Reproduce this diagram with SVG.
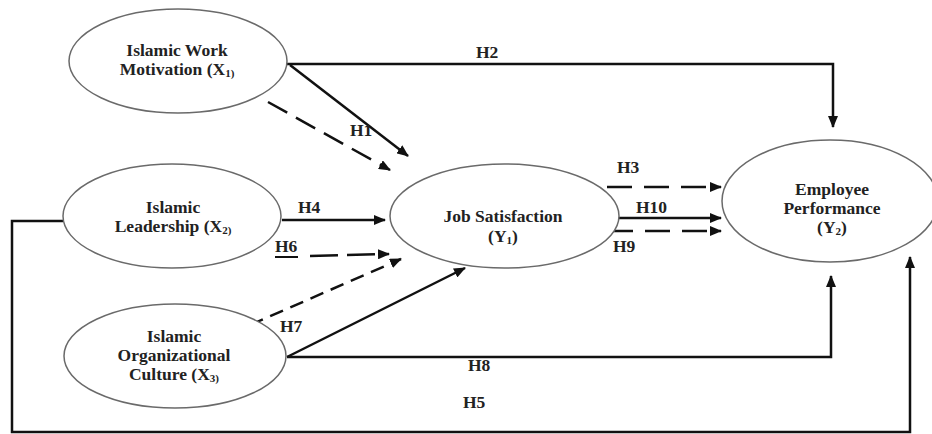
<svg xmlns="http://www.w3.org/2000/svg" width="932" height="434" viewBox="0 0 932 434">
<style>
.node ellipse{fill:#fff;stroke:#6a6a6a;stroke-width:1.5}
text{font-family:"Liberation Serif","Times New Roman",serif;font-weight:bold;font-size:17.5px;fill:#222}
.nt{text-anchor:middle}
.c{fill:none;stroke:#111;stroke-width:2.5}
.d1{stroke-dasharray:22 10}
.d2{stroke-dasharray:28 9}
.d3{stroke-dasharray:14 8}
.d4{stroke-dasharray:25 12}
</style>
<defs>
<marker id="ah" markerUnits="userSpaceOnUse" markerWidth="12" markerHeight="10" refX="11" refY="5" orient="auto">
<path d="M0,0 L12,5 L0,10 z" fill="#111"/>
</marker>
</defs>
<rect width="932" height="434" fill="#fff"/>
<g id="connectors">
<path class="c" d="M287,64 H833 V127" marker-end="url(#ah)"/>
<path class="c" d="M290,65 L408,156" marker-end="url(#ah)"/>
<path class="c d1" d="M268,102 L390,170" marker-end="url(#ah)"/>
<path class="c" d="M282,220 H385" marker-end="url(#ah)"/>
<path class="c d2" d="M310,256 L389,254" marker-end="url(#ah)"/>
<path class="c d3" d="M250,325 L401,259" marker-end="url(#ah)"/>
<path class="c" d="M287,357 L465,268" marker-end="url(#ah)"/>
<path class="c" d="M287,357 H831 V276" marker-end="url(#ah)"/>
<path class="c" d="M63,221 H12 V432 H910 V257" marker-end="url(#ah)"/>
<path class="c d4" d="M607,187 H721" marker-end="url(#ah)"/>
<path class="c" d="M613,218 H721" stroke-width="3" marker-end="url(#ah)"/>
<path class="c d4" d="M608,231 H721" marker-end="url(#ah)"/>
<line x1="275" y1="257" x2="298" y2="257" stroke="#111" stroke-width="2"/>
</g>
<g id="labels">
<text x="476" y="58">H2</text>
<text x="350" y="136">H1</text>
<text x="298" y="213">H4</text>
<text x="275" y="252">H6</text>
<text x="280" y="332">H7</text>
<text x="468" y="371">H8</text>
<text x="463" y="408">H5</text>
<text x="617" y="173">H3</text>
<text x="636" y="213">H10</text>
<text x="613" y="252">H9</text>
</g>
<g id="x1" class="node">
<ellipse cx="178" cy="61" rx="109" ry="52"/>
<text class="nt" x="177" y="56">Islamic Work</text>
<text class="nt" x="177" y="75">Motivation (X<tspan font-size="11" dy="2">1)</tspan></text>
</g>
<g id="x2" class="node">
<ellipse cx="172" cy="216" rx="109" ry="52"/>
<text class="nt" x="173" y="213">Islamic</text>
<text class="nt" x="173" y="232">Leadership (X<tspan font-size="11" dy="2">2)</tspan></text>
</g>
<g id="x3" class="node">
<ellipse cx="175" cy="356" rx="111" ry="52"/>
<text class="nt" x="174" y="342">Islamic</text>
<text class="nt" x="174" y="361">Organizational</text>
<text class="nt" x="174" y="380">Culture (X<tspan font-size="11" dy="2">3)</tspan></text>
</g>
<g id="y1" class="node">
<ellipse cx="504.5" cy="216" rx="114.5" ry="52"/>
<text class="nt" x="503" y="222">Job Satisfaction</text>
<text class="nt" x="503" y="242">(Y<tspan font-size="11" dy="2">1</tspan><tspan dy="-2">)</tspan></text>
</g>
<g id="y2" class="node">
<ellipse cx="830" cy="201" rx="108" ry="61"/>
<text class="nt" x="832" y="195">Employee</text>
<text class="nt" x="832" y="214">Performance</text>
<text class="nt" x="832" y="233">(Y<tspan font-size="11" dy="2">2</tspan><tspan dy="-2">)</tspan></text>
</g>
</svg>
